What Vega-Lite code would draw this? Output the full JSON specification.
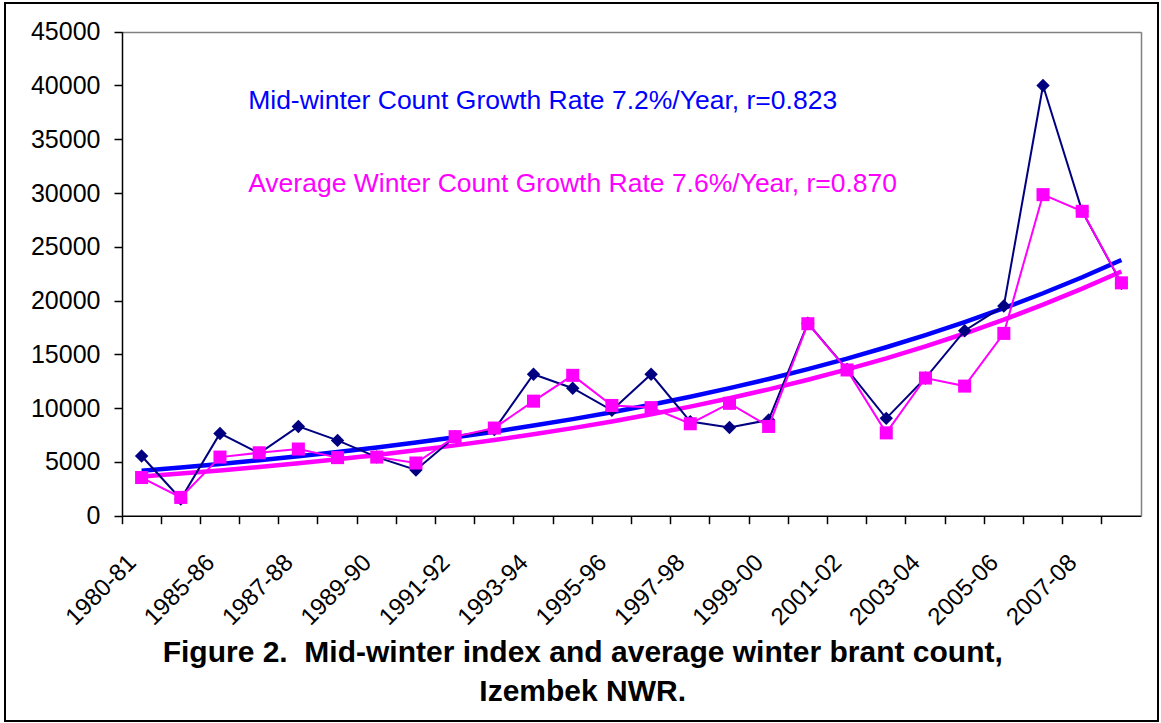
{
  "$schema": "https://vega.github.io/schema/vega-lite/v6.json",
  "width": 1153,
  "height": 718,
  "padding": {"left": 5, "top": 3, "right": 3, "bottom": 2},
  "autosize": {"type": "none"},
  "background": "white",
  "config": {"view": {"stroke": "#000000", "strokeWidth": 2}, "font": "Liberation Sans"},
  "data": {"values": [
    {"season": "1980-81", "mid": 5550, "avg": 3550, "midTrend": 4180, "avgTrend": 3640},
    {"season": "1984-85", "mid": 1550, "avg": 1700, "midTrend": 4480, "avgTrend": 3920},
    {"season": "1985-86", "mid": 7650, "avg": 5450, "midTrend": 4800, "avgTrend": 4210},
    {"season": "1986-87", "mid": 5800, "avg": 5850, "midTrend": 5150, "avgTrend": 4530},
    {"season": "1987-88", "mid": 8300, "avg": 6200, "midTrend": 5520, "avgTrend": 4880},
    {"season": "1988-89", "mid": 7000, "avg": 5400, "midTrend": 5920, "avgTrend": 5250},
    {"season": "1989-90", "mid": 5450, "avg": 5450, "midTrend": 6340, "avgTrend": 5650},
    {"season": "1990-91", "mid": 4250, "avg": 4900, "midTrend": 6800, "avgTrend": 6080},
    {"season": "1991-92", "mid": 7350, "avg": 7350, "midTrend": 7290, "avgTrend": 6540},
    {"season": "1992-93", "mid": 8000, "avg": 8150, "midTrend": 7810, "avgTrend": 7030},
    {"season": "1993-94", "mid": 13150, "avg": 10650, "midTrend": 8380, "avgTrend": 7570},
    {"season": "1994-95", "mid": 11850, "avg": 13050, "midTrend": 8980, "avgTrend": 8140},
    {"season": "1995-96", "mid": 9800, "avg": 10250, "midTrend": 9620, "avgTrend": 8760},
    {"season": "1996-97", "mid": 13150, "avg": 10050, "midTrend": 10320, "avgTrend": 9430},
    {"season": "1997-98", "mid": 8750, "avg": 8550, "midTrend": 11060, "avgTrend": 10140},
    {"season": "1998-99", "mid": 8200, "avg": 10450, "midTrend": 11860, "avgTrend": 10920},
    {"season": "1999-00", "mid": 8900, "avg": 8300, "midTrend": 12710, "avgTrend": 11750},
    {"season": "2000-01", "mid": 17900, "avg": 17850, "midTrend": 13630, "avgTrend": 12640},
    {"season": "2001-02", "mid": 13600, "avg": 13550, "midTrend": 14610, "avgTrend": 13600},
    {"season": "2002-03", "mid": 9050, "avg": 7700, "midTrend": 15660, "avgTrend": 14630},
    {"season": "2003-04", "mid": 12800, "avg": 12800, "midTrend": 16790, "avgTrend": 15750},
    {"season": "2004-05", "mid": 17200, "avg": 12050, "midTrend": 18000, "avgTrend": 16940},
    {"season": "2005-06", "mid": 19500, "avg": 16950, "midTrend": 19290, "avgTrend": 18230},
    {"season": "2006-07", "mid": 40000, "avg": 29850, "midTrend": 20680, "avgTrend": 19620},
    {"season": "2007-08", "mid": 28300, "avg": 28300, "midTrend": 22170, "avgTrend": 21110},
    {"season": "2008-09", "mid": 21600, "avg": 21650, "midTrend": 23770, "avgTrend": 22710}
  ]},
  "layer": [
    {
      "mark": {"type": "line", "color": "#0000FF", "strokeWidth": 4.5},
      "encoding": {
        "x": {
          "field": "season", "type": "ordinal", "sort": null,
          "scale": {"type": "band", "domain": ["1980-81","1984-85","1985-86","1986-87","1987-88","1988-89","1989-90","1990-91","1991-92","1992-93","1993-94","1994-95","1995-96","1996-97","1997-98","1998-99","1999-00","2000-01","2001-02","2002-03","2003-04","2004-05","2005-06","2006-07","2007-08","2008-09"], "range": [117, 1136], "paddingInner": 0, "paddingOuter": 0},
          "axis": {
            "title": null, "orient": "bottom", "offset": -205.3, "bandPosition": 0,
            "domainColor": "#000000", "domainWidth": 1.5, "tickColor": "#000000", "tickSize": 8, "tickWidth": 1.5,
            "labelAngle": -45, "labelAlign": "right", "labelBaseline": "middle", "labelPadding": 35, "labelOffset": -9,
            "labelFontSize": 24, "labelFont": "Liberation Sans", "labelColor": "#000000", "labelOverlap": false,
            "labelExpr": "indexof(['1980-81','1985-86','1987-88','1989-90','1991-92','1993-94','1995-96','1997-98','1999-00','2001-02','2003-04','2005-06','2007-08'], datum.value) >= 0 ? datum.value : ''"
          }
        },
        "y": {
          "field": "midTrend", "type": "quantitative",
          "scale": {"domain": [0, 45000], "range": [512.7, 28.7], "nice": false, "zero": false},
          "axis": {
            "title": null, "orient": "left", "offset": -117,
            "values": [0, 5000, 10000, 15000, 20000, 25000, 30000, 35000, 40000, 45000], "format": "d",
            "domainColor": "#000000", "domainWidth": 1.5, "tickColor": "#000000", "tickSize": 8, "tickWidth": 1.5,
            "labelPadding": 14, "labelFontSize": 25, "labelFont": "Liberation Sans", "labelColor": "#000000",
            "grid": true, "gridColor": "#808080", "gridWidth": 1.5,
            "gridOpacity": {"condition": {"test": "datum.value === 45000", "value": 1}, "value": 0}
          }
        }
      }
    },
    {
      "mark": {"type": "line", "color": "#FF00FF", "strokeWidth": 4.5},
      "encoding": {
        "x": {"field": "season", "type": "ordinal", "sort": null},
        "y": {
          "field": "avgTrend", "type": "quantitative",
          "axis": {"title": null, "orient": "right", "offset": -17, "labels": false, "ticks": false, "grid": false, "domainColor": "#808080", "domainWidth": 1.5}
        }
      }
    },
    {
      "mark": {"type": "line", "color": "#000080", "strokeWidth": 2, "point": {"shape": "diamond", "size": 180, "filled": true, "color": "#000080"}},
      "encoding": {
        "x": {"field": "season", "type": "ordinal", "sort": null},
        "y": {"field": "mid", "type": "quantitative", "axis": null}
      }
    },
    {
      "mark": {"type": "line", "color": "#FF00FF", "strokeWidth": 2, "point": {"shape": "square", "size": 170, "filled": true, "color": "#FF00FF"}},
      "encoding": {
        "x": {"field": "season", "type": "ordinal", "sort": null},
        "y": {"field": "avg", "type": "quantitative", "axis": null}
      }
    },
    {
      "data": {"values": [{}]},
      "mark": {"type": "text", "text": "Mid-winter Count Growth Rate 7.2%/Year, r=0.823", "color": "#0000FF", "fontSize": 26.5, "font": "Liberation Sans", "align": "left", "baseline": "alphabetic", "dx": -11},
      "encoding": {
        "x": {"datum": "1986-87"},
        "y": {"datum": 37815, "axis": null}
      }
    },
    {
      "data": {"values": [{}]},
      "mark": {"type": "text", "text": "Average Winter Count Growth Rate 7.6%/Year, r=0.870", "color": "#FF00FF", "fontSize": 26.5, "font": "Liberation Sans", "align": "left", "baseline": "alphabetic", "dx": -11},
      "encoding": {
        "x": {"datum": "1986-87"},
        "y": {"datum": 30125, "axis": null}
      }
    },
    {
      "data": {"values": [{}]},
      "mark": {"type": "text", "text": ["Figure 2.\u00a0 Mid-winter index and average winter brant count,", "Izembek NWR."], "color": "#000000", "fontSize": 30, "fontWeight": "bold", "font": "Liberation Sans", "lineHeight": 39, "align": "center", "baseline": "alphabetic", "dx": 10},
      "encoding": {
        "x": {"datum": "1994-95"},
        "y": {"datum": -13600, "axis": null}
      }
    }
  ],
  "resolve": {"axis": {"y": "independent"}}
}
